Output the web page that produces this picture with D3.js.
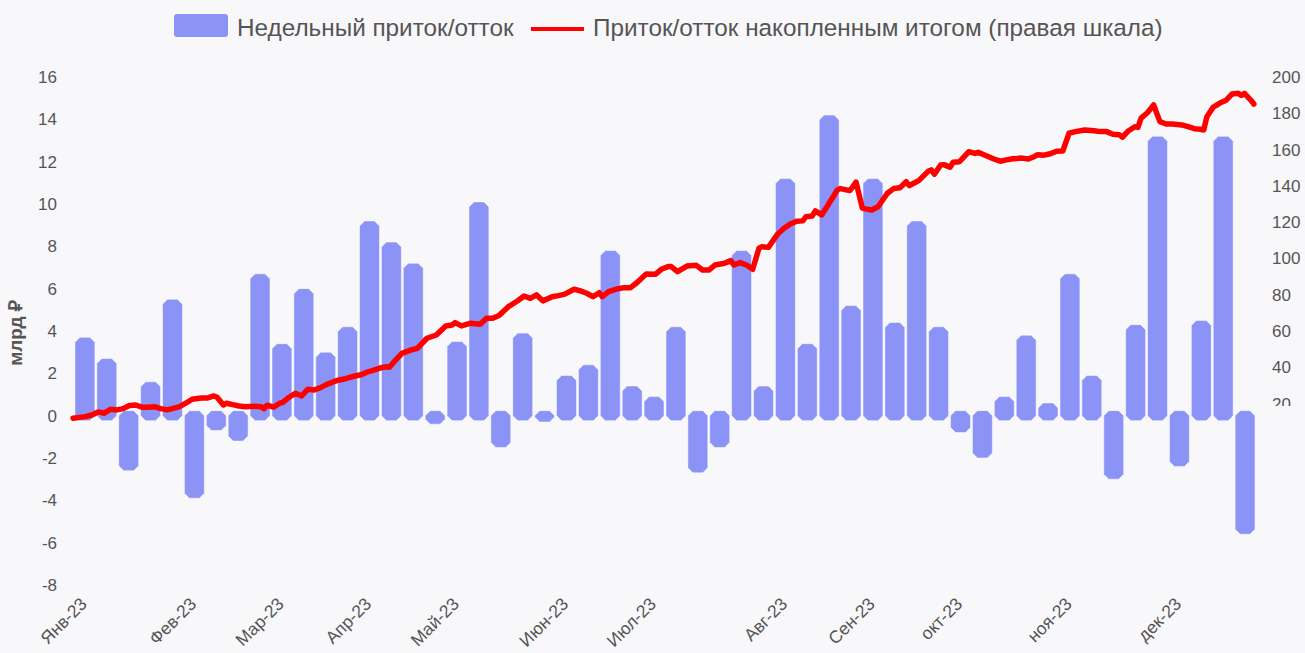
<!DOCTYPE html>
<html>
<head>
<meta charset="utf-8">
<script src="https://cdn.jsdelivr.net/npm/d3@7"></script>
<style>
  html, body { margin: 0; padding: 0; background: #f8f8fa; }
  svg { display: block; font-family: "Liberation Sans", Arial, sans-serif; }
</style>
</head>
<body>
<svg width="1305" height="653"></svg>
<script>
// weekly flows, bn rub (one per week)
const weeklyFlow = [
  3.7, 2.7, -2.6, 1.6, 5.5, -3.9, -0.7, -1.2, 6.7, 3.4,
  6.0, 3.0, 4.2, 9.2, 8.2, 7.2, -0.4, 3.5, 10.1, -1.5,
  3.9, -0.3, 1.9, 2.4, 7.8, 1.4, 0.9, 4.2, -2.7, -1.5,
  7.8, 1.4, 11.2, 3.4, 14.2, 5.2, 11.2, 4.4, 9.2, 4.2,
  -0.8, -2.0, 0.9, 3.8, 0.6, 6.7, 1.9, -3.0, 4.3, 13.2,
  -2.4, 4.5, 13.2, -5.6
];

// month tick labels and the week each one sits on
const monthLabels = ["Янв-23", "Фев-23", "Мар-23", "Апр-23", "Май-23", "Июн-23",
                     "Июл-23", "Авг-23", "Сен-23", "окт-23", "ноя-23", "дек-23"];
const monthWeek   = [0, 5, 9, 13, 17, 22, 26, 32, 36, 40, 45, 50];

// cumulative flow (right scale): day number and value
const cumDay = [
  0, 4, 6, 8, 10, 12, 14, 16, 18, 20, 22, 24, 26, 28, 30, 32, 34, 36, 38, 41,
  43, 45, 46, 48, 49, 51, 53, 55, 58, 60, 61, 62, 64, 66, 67, 69, 71, 73, 75, 77,
  79, 81, 83, 85, 87, 90, 92, 94, 96, 98, 100, 101, 103, 105, 108, 110, 113, 116, 119, 121,
  122, 124, 127, 130, 132, 134, 136, 139, 142, 144, 146, 148, 150, 153, 155, 157, 160, 162, 164, 166,
  168, 169, 171, 174, 176, 178, 180, 183, 186, 188, 190, 191, 193, 196, 199, 201, 203, 205, 208, 210,
  211, 213, 215, 217, 219, 220, 222, 225, 227, 229, 231, 233, 234, 236, 237, 239, 241, 244, 245, 248,
  249, 250, 252, 253, 255, 257, 260, 262, 264, 266, 267, 269, 270, 273, 274, 275, 277, 278, 280, 281,
  283, 284, 286, 288, 289, 291, 294, 296, 298, 300, 303, 305, 307, 308, 310, 312, 314, 316, 318, 320,
  323, 326, 328, 330, 332, 334, 335, 337, 339, 340, 341, 343, 345, 347, 349, 351, 354, 356, 358, 360,
  361, 362, 364, 366, 368, 370, 372, 373, 374, 376, 377
];
const cumValue = [
  11.9, 12.8, 13.7, 15.4, 14.7, 16.9, 16.5, 17.2, 18.9, 19.2, 18.0, 18.0, 18.3, 17.2, 16.5, 17.4, 18.3, 20.2, 22.4, 23.1,
  23.1, 24.2, 23.5, 19.2, 20.2, 19.4, 18.7, 18.3, 18.5, 18.3, 17.2, 19.1, 18.0, 20.2, 20.7, 23.5, 25.7, 24.2, 27.9, 27.5,
  28.8, 30.6, 31.9, 33.0, 33.7, 35.2, 35.9, 37.4, 38.5, 39.6, 40.3, 40.0, 44.0, 47.7, 49.6, 50.5, 56.0, 57.8, 62.8, 63.3,
  64.6, 62.8, 64.3, 63.7, 67.0, 67.0, 68.5, 73.4, 76.7, 79.3, 78.0, 79.9, 76.6, 78.9, 79.5, 80.3, 83.0, 82.1, 80.8, 78.9,
  81.1, 78.9, 81.7, 83.3, 83.9, 83.9, 86.6, 91.4, 91.3, 94.2, 95.5, 95.5, 92.7, 95.8, 96.2, 93.6, 93.6, 96.4, 97.3, 98.8,
  96.4, 97.7, 96.4, 94.0, 105.6, 106.5, 106.1, 113.5, 116.6, 119.0, 120.5, 120.7, 123.0, 123.4, 126.2, 124.0, 129.3, 137.7, 138.5, 137.4,
  139.6, 142.1, 127.7, 127.3, 126.7, 128.5, 135.9, 138.5, 139.0, 142.3, 140.1, 142.0, 142.9, 148.0, 148.8, 146.4, 151.5, 151.7, 150.3, 153.0,
  153.3, 155.2, 158.8, 157.9, 158.5, 157.0, 154.8, 153.6, 154.3, 154.9, 155.3, 154.8, 156.2, 157.2, 156.9, 157.7, 159.1, 159.2, 169.0, 169.9,
  170.8, 170.4, 169.9, 169.9, 168.4, 168.2, 166.8, 170.4, 172.6, 172.3, 177.3, 180.3, 184.6, 175.4, 174.1, 174.1, 173.6, 172.6, 171.5, 171.2,
  170.8, 178.1, 183.3, 185.5, 187.0, 190.6, 191.0, 189.9, 191.0, 187.3, 185.1
];

const leftTicks  = [-8, -6, -4, -2, 0, 2, 4, 6, 8, 10, 12, 14, 16];
const rightTicks = [20, 40, 60, 80, 100, 120, 140, 160, 180, 200];

const barColor  = "#8b93f6";
const lineColor = "#ff0000";
const textColor = "#555";

const svg = d3.select("svg");
svg.append("rect").attr("width", 1305).attr("height", 653).attr("fill", "#f8f8fa");

// scales
const plotLeft = 73, plotRight = 1257, plotTop = 77, plotBottom = 585;
const x  = d3.scaleBand().domain(d3.range(weeklyFlow.length)).range([plotLeft, plotRight]).padding(0.09);
const xd = d3.scaleLinear().domain([0, weeklyFlow.length * 7]).range([plotLeft, plotRight]);
const y  = d3.scaleLinear().domain([-8, 16]).range([plotBottom, plotTop]);
const y2 = d3.scaleLinear().domain([-80, 200]).range([plotBottom, plotTop]);

// left axis (plain hyphen minus like the original)
const yAxis = svg.append("g")
  .attr("transform", `translate(${plotLeft - 16},0)`)
  .call(d3.axisLeft(y).tickValues(leftTicks).tickFormat(d => String(d)).tickSize(0).tickPadding(0));
yAxis.select(".domain").remove();
yAxis.selectAll("text").attr("font-size", 17).attr("fill", textColor).attr("font-family", null);

// right axis, labels under 20 are cut off in the original
svg.append("clipPath").attr("id", "rclip")
  .append("rect").attr("x", 1260).attr("y", 0).attr("width", 45).attr("height", 406);
const yAxis2 = svg.append("g")
  .attr("clip-path", "url(#rclip)")
  .append("g")
  .attr("transform", `translate(${plotRight + 15},0)`)
  .call(d3.axisRight(y2).tickValues(rightTicks).tickSize(0).tickPadding(0));
yAxis2.select(".domain").remove();
yAxis2.selectAll("text").attr("font-size", 17).attr("fill", textColor).attr("font-family", null);

// y title
svg.append("text")
  .attr("transform", "translate(22,333) rotate(-90)")
  .attr("text-anchor", "middle")
  .attr("font-size", 19)
  .attr("font-weight", "bold")
  .attr("fill", textColor)
  .text("млрд ₽");

// month labels
svg.append("g").selectAll("text")
  .data(monthLabels)
  .join("text")
    .attr("transform", (d, i) => `translate(${x(monthWeek[i]) + x.bandwidth() / 2 + 3},605) rotate(-45)`)
    .attr("text-anchor", "end")
    .attr("font-size", 17.5)
    .attr("fill", textColor)
    .text(d => d);

// bars: octagon shape, running a few px past zero
const c = 5, ext = 5;
function barPath(i, v) {
  const x0 = x(i), x1 = x0 + x.bandwidth();
  const y0 = v >= 0 ? y(0) + ext : y(0) - ext;
  const y1 = y(v);
  const top = Math.min(y0, y1), bot = Math.max(y0, y1);
  return `M${x0 + c},${top} L${x1 - c},${top} L${x1},${top + c} L${x1},${bot - c} ` +
         `L${x1 - c},${bot} L${x0 + c},${bot} L${x0},${bot - c} L${x0},${top + c} Z`;
}
svg.append("g").selectAll("path")
  .data(weeklyFlow)
  .join("path")
    .attr("d", (d, i) => barPath(i, d))
    .attr("fill", barColor)
    .attr("stroke", "#ffffff")
    .attr("stroke-opacity", 0.5)
    .attr("stroke-width", 1);

// cumulative line
const line = d3.line()
  .x((d, i) => xd(cumDay[i]))
  .y(d => y2(d));
svg.append("path")
  .datum(cumValue)
  .attr("fill", "none")
  .attr("stroke", lineColor)
  .attr("stroke-width", 5.5)
  .attr("stroke-linejoin", "round")
  .attr("stroke-linecap", "round")
  .attr("d", line);

// legend
const lg = svg.append("g");
lg.append("rect").attr("x", 174).attr("y", 14).attr("width", 54).attr("height", 23)
  .attr("rx", 3).attr("fill", barColor);
lg.append("text").attr("x", 237).attr("y", 36).attr("font-size", 24.3).attr("fill", textColor)
  .text("Недельный приток/отток");
lg.append("line").attr("x1", 531).attr("x2", 584).attr("y1", 29).attr("y2", 29)
  .attr("stroke", lineColor).attr("stroke-width", 4);
lg.append("text").attr("x", 593).attr("y", 36).attr("font-size", 24.3).attr("fill", textColor)
  .text("Приток/отток накопленным итогом (правая шкала)");
</script>
</body>
</html>
